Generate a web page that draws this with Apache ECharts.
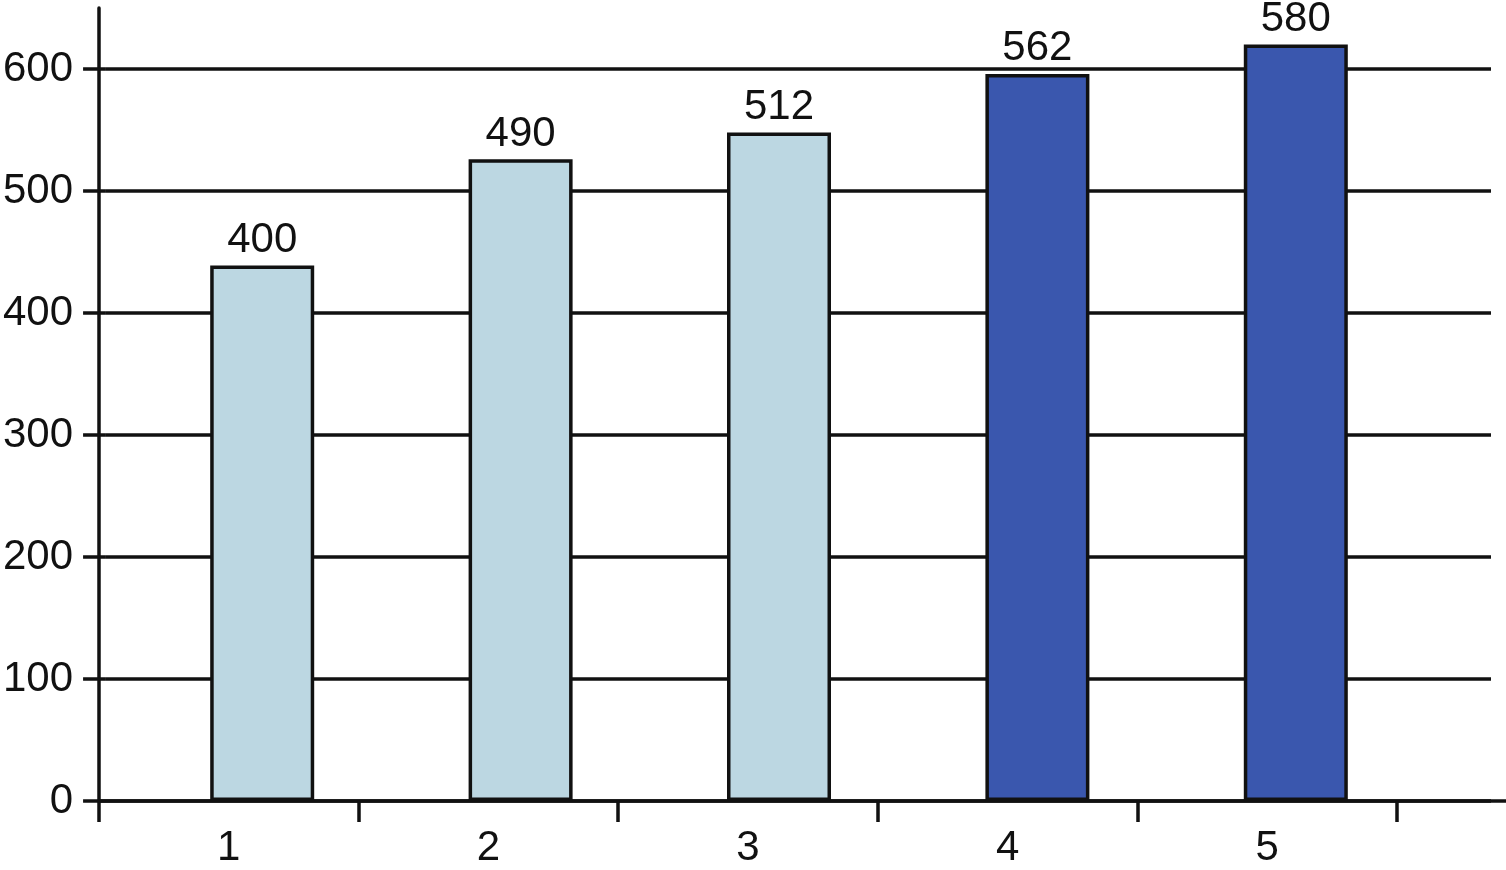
<!DOCTYPE html>
<html>
<head>
<meta charset="utf-8">
<script src="https://cdn.jsdelivr.net/npm/echarts@6/dist/echarts.min.js"></script>
<style>
    html, body { margin: 0; padding: 0; background: #ffffff; }
    #chart { width: 1506px; height: 870px; }
</style>
</head>
<body>
<div id="chart"></div>
<script>
    // data
    const categories = ['1', '2', '3', '4', '5'];
    const barValues = [439, 526, 548, 596, 620];
    const barLabels = ['400', '490', '512', '562', '580'];
    const yTicks = [0, 100, 200, 300, 400, 500, 600];

    const ink = '#111111';
    const lightFill = '#bcd7e2';
    const darkFill = '#3a57ae';
    const font = 'Liberation Sans, Arial, sans-serif';

    const chart = echarts.init(document.getElementById('chart'));

    chart.setOption({
        animation: false,
        grid: [
            // gridlines + y labels
            { left: 99, right: 15, top: 69, bottom: 69 },
            // long axis lines
            { left: 99, right: 0, top: 8, bottom: 69 },
            // category labels and ticks
            { left: 99, width: 1298, top: 8, bottom: 69 },
            // bars (sit a little right of the label centres)
            { left: 133, width: 1292, top: 8, bottom: 69 },
        ],
        xAxis: [
            { gridIndex: 0, type: 'category', data: categories, show: false },
            {
                gridIndex: 1, type: 'value', min: 0, max: 1,
                axisLine: { show: true, lineStyle: { color: ink, width: 3.5 } },
                axisTick: { show: false },
                axisLabel: { show: false },
                splitLine: { show: false },
            },
            {
                gridIndex: 2, type: 'category', data: categories,
                axisLine: { show: false },
                axisTick: { show: true, length: 21, lineStyle: { color: ink, width: 3.5 } },
                axisLabel: { margin: 26, fontSize: 42, color: ink, fontFamily: font },
                splitLine: { show: false },
            },
            { gridIndex: 3, type: 'category', data: categories, show: false },
        ],
        yAxis: [
            {
                gridIndex: 0, type: 'value', min: yTicks[0], max: yTicks[yTicks.length - 1], interval: 100,
                axisLine: { show: false },
                axisTick: { show: true, length: 22, lineStyle: { color: ink, width: 3.5 } },
                axisLabel: { margin: 32, fontSize: 42, color: ink, fontFamily: font },
                splitLine: { show: true, lineStyle: { color: ink, width: 3.5 } },
            },
            {
                gridIndex: 1, type: 'value', min: 0, max: 650,
                axisLine: { show: true, lineStyle: { color: ink, width: 3.5 } },
                axisTick: { show: false },
                axisLabel: { show: false },
                splitLine: { show: false },
            },
            { gridIndex: 2, type: 'value', min: 0, max: 650, show: false },
            { gridIndex: 3, type: 'value', min: 0, max: 650, show: false },
        ],
        series: [
            {
                type: 'bar',
                xAxisIndex: 3,
                yAxisIndex: 3,
                data: barValues,
                barWidth: 104,
                z: 3,
                itemStyle: {
                    color: (p) => (p.dataIndex < 3 ? lightFill : darkFill),
                    borderColor: ink,
                    borderWidth: 3.5,
                },
                label: {
                    show: true,
                    position: 'top',
                    distance: 4,
                    fontSize: 42,
                    color: ink,
                    fontFamily: font,
                    formatter: (p) => barLabels[p.dataIndex],
                },
            },
        ],
    });
</script>
</body>
</html>
